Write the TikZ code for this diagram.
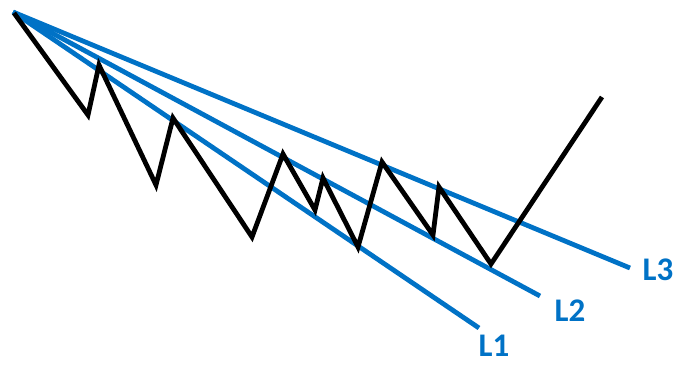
\documentclass[tikz,border=0pt]{standalone}
\usepackage{fontspec}
\setmainfont{Carlito}
\definecolor{lineblue}{RGB}{0,114,198}
\begin{document}
\begin{tikzpicture}[x=1pt,y=-1pt,
  trend/.style={draw=lineblue,line width=4.8pt,line cap=butt},
  price/.style={draw=black,line width=4.8pt,line join=miter,line cap=butt},
  lbl/.style={text=lineblue,font=\bfseries\fontsize{33}{33}\selectfont,inner sep=0pt}]
\useasboundingbox (0,0) rectangle (686,365);
\coordinate (O) at (13,12);
\coordinate (e1) at (479,328);
\coordinate (e2) at (540,296);
\coordinate (e3) at (630,268);
\node[lbl] (t1) at (494,346) {L1};
\node[lbl] (t2) at (570,311) {L2};
\node[lbl] (t3) at (658,270) {L3};
\draw[trend] (O) -- (e1);
\draw[trend] (O) -- (e2);
\draw[trend] (O) -- (e3);
\draw[price] (14,13) -- (88,115) -- (99,65) -- (156,185) -- (173,118) -- (252,237)
  -- (283,154) -- (315,210) -- (323,178) -- (358,247) -- (382,162) -- (433,235)
  -- (439,187) -- (491,264) -- (602,97);
\end{tikzpicture}
\end{document}
